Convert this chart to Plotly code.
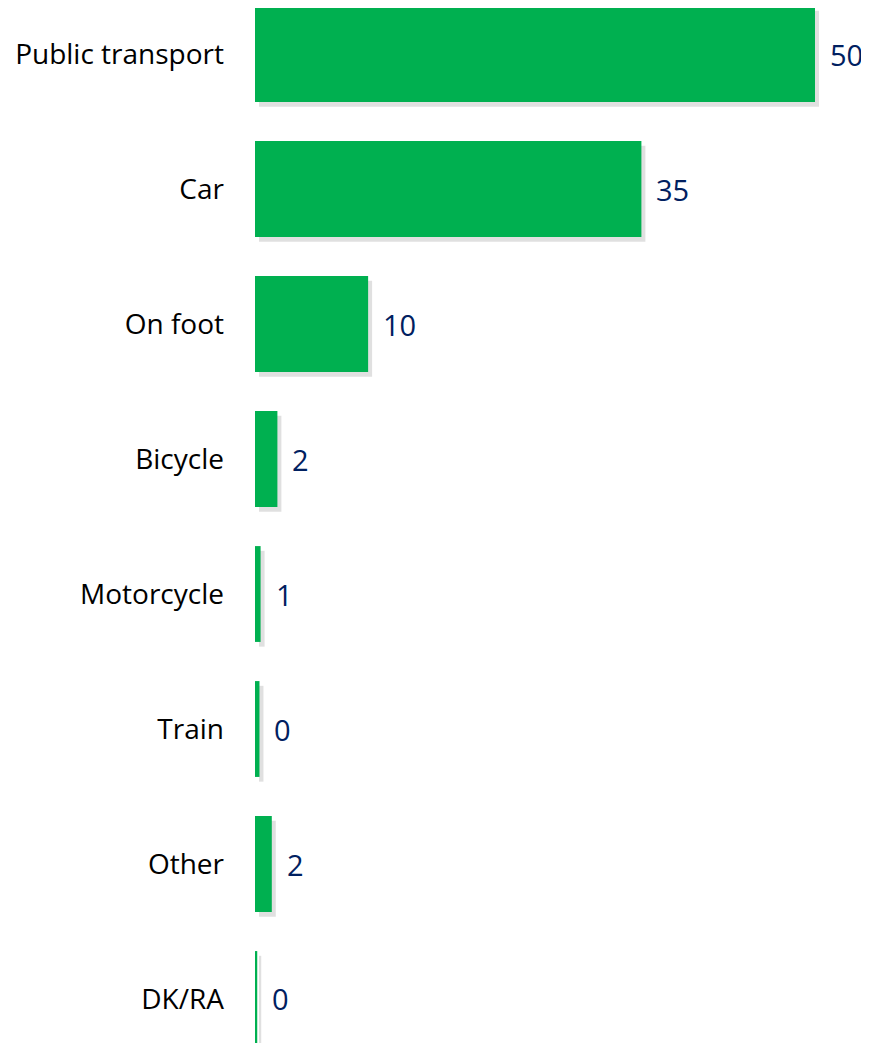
import plotly.graph_objects as go

categories = ["Public transport", "Car", "On foot", "Bicycle", "Motorcycle", "Train", "Other", "DK/RA"]
values = [50, 34.5, 10.1, 2.0, 0.5, 0.4, 1.5, 0.2]
labels = ["50", "35", "10", "2", "1", "0", "2", "0"]

green = "#00B050"
label_color = "#002060"

px_per_unit = 11.2
shadow_dx = 4 / px_per_unit

fig = go.Figure()
# soft shadow
fig.add_trace(go.Bar(
    y=categories, x=values, base=[shadow_dx] * len(values),
    orientation="h", marker=dict(color="rgba(0,0,0,0.12)", line=dict(width=0)),
    width=0.71, offset=-0.355 + 0.035, hoverinfo="skip", showlegend=False,
))
fig.add_trace(go.Bar(
    y=categories, x=values, orientation="h",
    marker=dict(color=green, line=dict(width=0)),
    width=0.71, offset=-0.355, showlegend=False,
))

for c, v, t in zip(categories, values, labels):
    fig.add_annotation(x=v, y=c, xref="x", yref="y", text=t, showarrow=False,
                       xanchor="left", yanchor="middle", xshift=13,
                       font=dict(family="Open Sans", size=29, color=label_color))

fig.update_layout(
    width=861, height=1035,
    margin=dict(l=247, r=0, t=0, b=0),
    plot_bgcolor="white", paper_bgcolor="white",
    barmode="overlay",
    xaxis=dict(range=[0, 614 / px_per_unit], visible=False, showgrid=False, zeroline=False),
    yaxis=dict(range=[7.326, -0.341], showgrid=False, zeroline=False, showline=False,
               ticks="", ticklabelstandoff=30,
               tickfont=dict(family="Open Sans", size=28, color="black"),
               categoryorder="array", categoryarray=categories),
)

fig.write_html("out.html")
